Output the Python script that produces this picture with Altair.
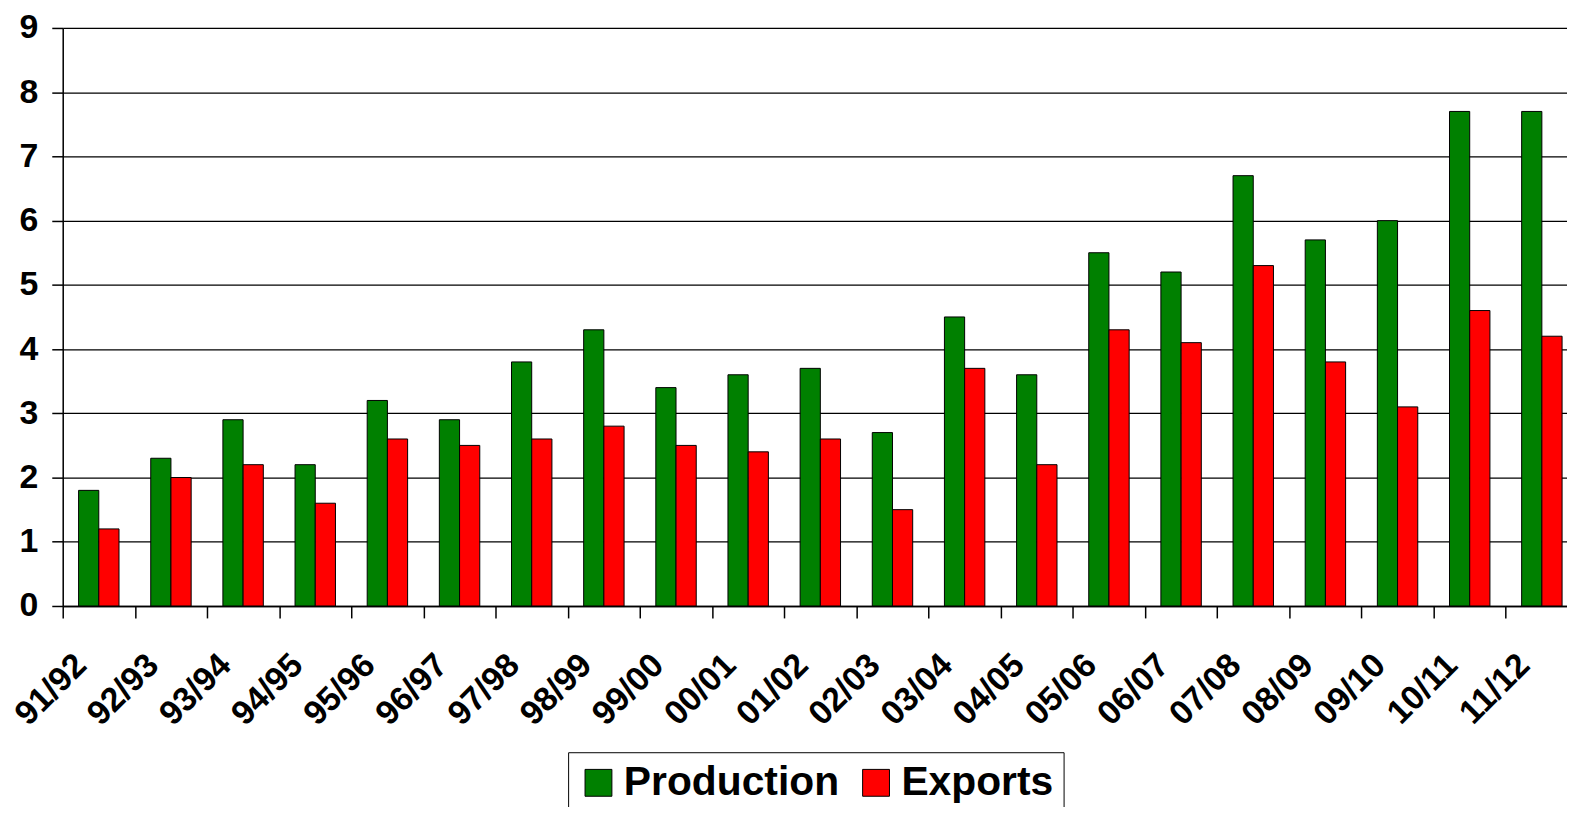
import altair as alt
import pandas as pd

seasons = ["91/92", "92/93", "93/94", "94/95", "95/96", "96/97", "97/98", "98/99",
           "99/00", "00/01", "01/02", "02/03", "03/04", "04/05", "05/06", "06/07",
           "07/08", "08/09", "09/10", "10/11", "11/12"]
production = [1.8, 2.3, 2.9, 2.2, 3.2, 2.9, 3.8, 4.3, 3.4, 3.6, 3.7, 2.7, 4.5, 3.6,
              5.5, 5.2, 6.7, 5.7, 6.0, 7.7, 7.7]
exports = [1.2, 2.0, 2.2, 1.6, 2.6, 2.5, 2.6, 2.8, 2.5, 2.4, 2.6, 1.5, 3.7, 2.2,
           4.3, 4.1, 5.3, 3.8, 3.1, 4.6, 4.2]
series = ["Production", "Exports"]
colors = ["#008000", "#FF0000"]

rows = []
for s, p, e in zip(seasons, production, exports):
    rows.append({"season": s, "series": "Production", "value": p})
    rows.append({"season": s, "series": "Exports", "value": e})
df = pd.DataFrame(rows)

FONT = "Liberation Sans"

chart = alt.Chart(df).mark_bar(stroke="black", strokeWidth=1).encode(
    x=alt.X("season:N", sort=seasons, title=None,
            scale=alt.Scale(paddingInner=0, paddingOuter=0),
            axis=alt.Axis(labelAngle=-45, labelAlign="right", labelBaseline="middle",
                          tickBand="extent", tickSize=12, tickColor="black", tickWidth=1.5,
                          domainColor="black", domainWidth=1.5,
                          labelPadding=42, labelOffset=-18,
                          labelFont=FONT, labelFontSize=34, labelFontWeight="bold",
                          labelColor="black", grid=False)),
    xOffset=alt.XOffset("series:N", sort=series,
                        scale=alt.Scale(paddingInner=0, paddingOuter=0.785)),
    y=alt.Y("value:Q", title=None,
            scale=alt.Scale(domain=[0, 9], nice=False),
            axis=alt.Axis(values=list(range(10)), grid=True, gridColor="black", gridWidth=1.3,
                          gridOpacity=1, tickSize=11, tickColor="black", tickWidth=1.5,
                          domainColor="black", domainWidth=1.5, labelPadding=14,
                          labelFont=FONT, labelFontSize=34, labelFontWeight="bold",
                          labelColor="black")),
    color=alt.Color("series:N", sort=series,
                    scale=alt.Scale(domain=series, range=colors),
                    legend=alt.Legend(orient="none", legendX=508, legendY=728,
                                      direction="horizontal", title=None,
                                      strokeColor="black", padding=10,
                                      symbolType="square", symbolSize=729,
                                      symbolStrokeColor="black", symbolStrokeWidth=1,
                                      symbolOpacity=1,
                                      labelFont=FONT, labelFontSize=41,
                                      labelFontWeight="bold", labelColor="black",
                                      labelOffset=5, labelLimit=500,
                                      columnPadding=16)),
).properties(
    width=1523,
    height=581,
    padding={"left": 55, "top": 18, "right": -11, "bottom": 200},
    autosize=alt.AutoSizeParams(type="none"),
).configure_view(stroke=None).configure(background="white")

chart.save("out.html", embed_options={"renderer": "svg", "actions": False})
